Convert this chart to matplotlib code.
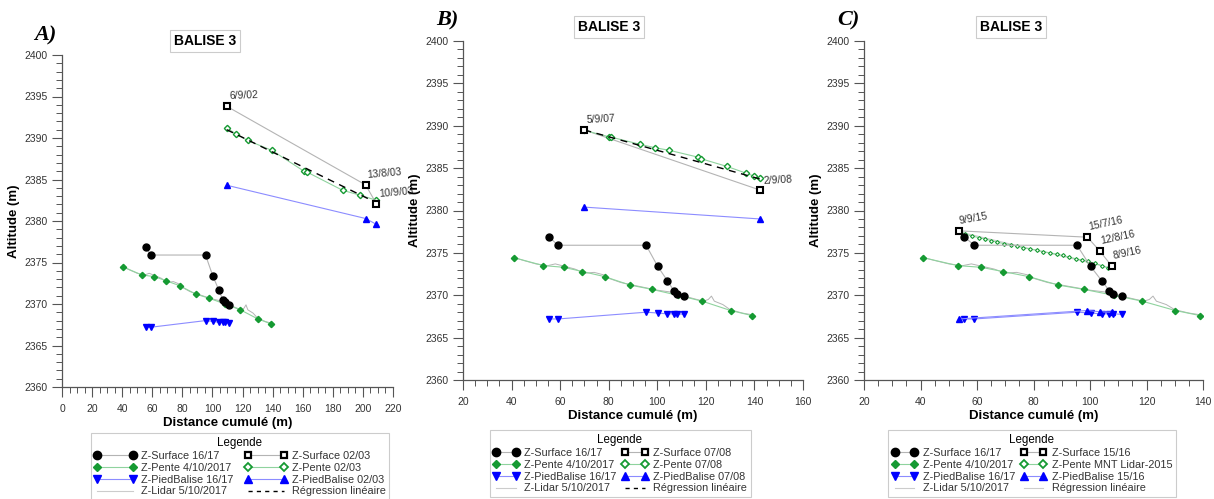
import matplotlib
matplotlib.use('Agg')
import matplotlib.pyplot as plt
from matplotlib.lines import Line2D
from matplotlib.ticker import MultipleLocator

plt.rcParams['font.family'] = ['Liberation Sans', 'DejaVu Sans']

# ---------------- shared series (2016/17 survey) ----------------
surf1617_x = [55.5, 59.0, 95.4, 100.2, 104.2, 106.9, 108.2, 111.2]
surf1617_y = [2376.9, 2375.9, 2375.9, 2373.4, 2371.7, 2370.5, 2370.2, 2369.9]
pente2017_x = [40.8, 53.1, 61.4, 69.2, 78.3, 88.8, 97.7, 108.4, 118.5, 130.2, 139.0]
pente2017_y = [2374.45, 2373.5, 2373.3, 2372.8, 2372.2, 2371.2, 2370.7, 2370.0, 2369.3, 2368.2, 2367.6]
pied1617_x = [55.5, 59.0, 95.4, 100.2, 104.2, 106.9, 108.2, 111.2]
pied1617_y = [2367.2, 2367.2, 2368.0, 2367.9, 2367.8, 2367.8, 2367.8, 2367.75]
lidar_x = [40.5, 45, 50, 55, 58, 62, 66, 70, 74, 78, 80, 85, 90, 95, 100, 105, 110,
           115, 119, 121, 122.3, 123.5, 127, 130, 135, 139]
lidar_y = [2374.5, 2374.1, 2373.7, 2373.5, 2373.7, 2373.4, 2373.1, 2372.6, 2372.7, 2372.4,
           2372.0, 2371.5, 2371.2, 2370.9, 2370.6, 2370.4, 2370.0, 2369.6, 2369.3, 2369.5,
           2369.9, 2369.3, 2368.9, 2368.3, 2367.9, 2367.7]

# ---------------- panel A (2002/03) ----------------
surfA_x = [109.7, 201.8, 208.9]
surfA_y = [2393.8, 2384.35, 2382.1]
surfA_lab = ["6/9/02", "13/8/03", "10/9/03"]
penteA_x = [109.4, 115.6, 123.4, 139.6, 160.8, 162.8, 186.5, 198.3, 208.9]
penteA_y = [2391.2, 2390.5, 2389.7, 2388.5, 2386.0, 2385.9, 2383.7, 2383.1, 2382.5]
piedA_x = [109.7, 201.8, 208.9]
piedA_y = [2384.3, 2380.3, 2379.6]
regA_x = [109.5, 209.0]
regA_y = [2391.0, 2382.2]

# ---------------- panel B (2007/08) ----------------
surfB_x = [70.0, 142.4]
surfB_y = [2389.5, 2382.4]
surfB_lab = ["5/9/07", "2/9/08"]
penteB_x = [70.0, 80.0, 81.1, 93.0, 99.2, 105.0, 116.7, 118.1, 128.7, 136.6, 139.9, 142.5]
penteB_y = [2389.45, 2388.7, 2388.65, 2387.8, 2387.4, 2387.1, 2386.3, 2386.1, 2385.2, 2384.4, 2384.05, 2383.8]
piedB_x = [70.0, 142.4]
piedB_y = [2380.4, 2379.0]
regB_x = [70.0, 142.5]
regB_y = [2389.5, 2383.7]

# ---------------- panel C (2015/16) ----------------
surfC_x = [53.6, 99.1, 103.5, 107.8]
surfC_y = [2377.6, 2376.85, 2375.2, 2373.4]
surfC_lab = ["9/9/15", "15/7/16", "12/8/16", "8/9/16"]
penteC_x = [53.6, 55.9, 58.2, 60.6, 62.7, 65.1, 67.2, 69.6, 71.9, 74.3, 76.4, 78.8, 81.1,
            83.5, 85.8, 88.2, 90.3, 92.7, 95.0, 97.2, 99.4, 101.8, 104.1, 106.4]
penteC_y = [2377.6, 2377.2, 2377.0, 2376.8, 2376.65, 2376.45, 2376.25, 2376.1, 2375.95, 2375.8,
            2375.6, 2375.45, 2375.3, 2375.15, 2375.0, 2374.85, 2374.7, 2374.5, 2374.3, 2374.15,
            2374.0, 2373.75, 2373.5, 2373.2]
piedC_x = [53.6, 99.1, 103.5, 107.8]
piedC_y = [2367.2, 2368.2, 2368.05, 2368.0]
regC_x = [53.6, 107.8]
regC_y = [2377.5, 2373.2]

GREEN = '#159a32'
LGREEN = '#8fd39e'
BLUE = '#0000ff'
LBLUE = '#8c8cff'
GREY = '#b4b4b4'
TXT = '#333333'

fig = plt.figure(figsize=(12.14, 4.99), dpi=100)


def px(x0, y0, x1, y1):
    W, H = 1214.0, 499.0
    return [x0 / W, 1 - y1 / H, (x1 - x0) / W, (y1 - y0) / H]


def base_panel(rect, xlim, letter, letter_xy, title_xy):
    ax = fig.add_axes(rect)
    ax.set_xlim(*xlim)
    ax.set_ylim(2360, 2400)
    for s in ['top', 'right']:
        ax.spines[s].set_visible(False)
    for s in ['left', 'bottom']:
        ax.spines[s].set_color('#555555')
        ax.spines[s].set_linewidth(0.9)
    ax.xaxis.set_major_locator(MultipleLocator(20))
    ax.xaxis.set_minor_locator(MultipleLocator(5))
    ax.yaxis.set_major_locator(MultipleLocator(5))
    ax.yaxis.set_minor_locator(MultipleLocator(1))
    ax.tick_params(which='major', direction='out', length=7, width=0.8, color='#555555',
                   labelsize=7.5, labelcolor=TXT, pad=3.5)
    ax.tick_params(axis='x', which='major', pad=5.5)
    ax.tick_params(which='minor', direction='out', length=4.5, width=0.7, color='#555555')
    ax.set_xlabel('Distance cumulé (m)', fontsize=9.5, fontweight='bold', labelpad=2)
    ax.set_ylabel('Altitude (m)', fontsize=9.5, fontweight='bold', labelpad=3)
    fig.text(letter_xy[0] / 1214, 1 - letter_xy[1] / 499, letter, fontsize=16,
             fontweight='bold', fontstyle='italic', family='Liberation Serif',
             ha='center', va='center')
    fig.text(title_xy[0] / 1214, 1 - title_xy[1] / 499, 'BALISE 3', fontsize=10,
             fontweight='bold', ha='center', va='center',
             bbox=dict(boxstyle='square,pad=0.3', fc='white', ec='#cccccc', lw=0.8))
    return ax


def common_series(ax):
    ax.plot(lidar_x, lidar_y, color=GREY, lw=0.7, zorder=2)
    ax.plot(pente2017_x, pente2017_y, color=LGREEN, lw=0.8, marker='D', ms=3.2,
            mfc=GREEN, mec=GREEN, zorder=3)
    ax.plot(surf1617_x, surf1617_y, color=GREY, lw=0.8, marker='o', ms=5,
            mfc='black', mec='black', zorder=4)
    ax.plot(pied1617_x, pied1617_y, color=LBLUE, lw=0.8, marker='v', ms=4,
            mfc=BLUE, mec=BLUE, zorder=4)


def proxies(surf_lab, pente_lab, pied_lab, reg_style):
    h = [
        Line2D([], [], color=GREY, lw=0.8, marker='o', ms=6, mfc='black', mec='black'),
        Line2D([], [], color=LGREEN, lw=0.8, marker='D', ms=4.3, mfc=GREEN, mec=GREEN),
        Line2D([], [], color=LBLUE, lw=0.8, marker='v', ms=5.8, mfc=BLUE, mec=BLUE),
        Line2D([], [], color='#cccccc', lw=0.8),
        Line2D([], [], color=GREY, lw=0.8, marker='s', ms=5, mfc='white', mec='black', mew=1.6),
        Line2D([], [], color=LGREEN, lw=0.8, marker='D', ms=4, mfc='white', mec=GREEN, mew=1.3),
        Line2D([], [], color=LBLUE, lw=0.8, marker='^', ms=5.8, mfc=BLUE, mec=BLUE),
        reg_style,
    ]
    l = ['Z-Surface 16/17', 'Z-Pente 4/10/2017', 'Z-PiedBalise 16/17', 'Z-Lidar 5/10/2017',
         surf_lab, pente_lab, pied_lab, 'Régression linéaire']
    return h, l


def add_legend(h, l, cx, top, hl, colsp):
    leg = fig.legend(h, l, loc='upper center', bbox_to_anchor=(cx / 1214, 1 - top / 499),
                     ncol=2, numpoints=2, title='Legende', fontsize=7.8, title_fontsize=8.3,
                     handlelength=hl, handletextpad=0.5, columnspacing=colsp,
                     labelspacing=0.18, borderpad=0.3, fancybox=False, framealpha=1,
                     edgecolor='#cccccc')
    leg.get_frame().set_linewidth(0.8)
    for t in leg.get_texts():
        t.set_color(TXT)


def annotate(ax, xs, ys, labs, offs, rots):
    for x, y, t, (dx, dy), r in zip(xs, ys, labs, offs, rots):
        ax.text(x + dx, y + dy, t, fontsize=7.5, color=TXT, rotation=r,
                ha='left', va='bottom', rotation_mode='anchor')


# ---------------- Panel A ----------------
axA = base_panel(px(62, 55, 393, 387), (0, 220), 'A)', (45, 35), (205, 41))
common_series(axA)
axA.plot(penteA_x, penteA_y, color=LGREEN, lw=0.8, marker='D', ms=3.2, mfc='white',
         mec=GREEN, mew=1.0, zorder=3)
axA.plot(regA_x, regA_y, color='black', lw=1.0, ls=(0, (5, 4)), zorder=4)
axA.plot(surfA_x, surfA_y, color=GREY, lw=0.8, marker='s', ms=4.8, mfc='white',
         mec='black', mew=1.5, zorder=5)
axA.plot(piedA_x, piedA_y, color=LBLUE, lw=0.8, marker='^', ms=4, mfc=BLUE, mec=BLUE, zorder=4)
annotate(axA, surfA_x, surfA_y, surfA_lab, [(1.5, 0.7), (1.5, 0.6), (1.8, 0.5)], [2, 5, 5])
hA, lA = proxies('Z-Surface 02/03', 'Z-Pente 02/03', 'Z-PiedBalise 02/03',
                 Line2D([], [], color='black', lw=1.0, ls=(0, (3, 3))))
add_legend(hA, lA, 240, 428, 3.9, 1.0)

# ---------------- Panel B ----------------
axB = base_panel(px(463, 41, 803, 380), (20, 160), 'B)', (447, 20), (609, 27))
common_series(axB)
axB.plot(surfB_x, surfB_y, color=GREY, lw=0.8, zorder=3)
axB.plot(penteB_x, penteB_y, color=LGREEN, lw=0.8, marker='D', ms=3.2, mfc='white',
         mec=GREEN, mew=1.0, zorder=3)
axB.plot(regB_x, regB_y, color='black', lw=1.0, ls=(0, (5, 4)), zorder=4)
axB.plot(surfB_x, surfB_y, ls='none', marker='s', ms=4.8, mfc='white',
         mec='black', mew=1.5, zorder=5)
axB.plot(piedB_x, piedB_y, color=LBLUE, lw=0.8, marker='^', ms=4, mfc=BLUE, mec=BLUE, zorder=4)
annotate(axB, surfB_x, surfB_y, surfB_lab, [(1.0, 0.6), (1.2, 0.5)], [3, 3])
hB, lB = proxies('Z-Surface 07/08', 'Z-Pente 07/08', 'Z-PiedBalise 07/08',
                 Line2D([], [], color='black', lw=1.0, ls=(0, (3, 3))))
add_legend(hB, lB, 620, 425, 2.4, 0.5)

# ---------------- Panel C ----------------
axC = base_panel(px(864, 41, 1203, 380), (20, 140), 'C)', (848, 20), (1011, 27))
common_series(axC)
axC.plot(regC_x, regC_y, color='#cccccc', lw=0.7, zorder=3)
axC.plot(penteC_x, penteC_y, color=LGREEN, lw=0.8, marker='D', ms=2.0, mfc='white',
         mec=GREEN, mew=0.8, zorder=3)
axC.plot([surfC_x[0], surf1617_x[0]], [surfC_y[0], surf1617_y[0]], color=GREY, lw=0.8, zorder=3)
axC.plot(surfC_x, surfC_y, color=GREY, lw=0.8, marker='s', ms=4.8, mfc='white',
         mec='black', mew=1.5, zorder=5)
axC.plot(piedC_x, piedC_y, color=LBLUE, lw=0.8, marker='^', ms=4, mfc=BLUE, mec=BLUE, zorder=4)
annotate(axC, surfC_x, surfC_y, surfC_lab,
         [(0.3, 0.6), (0.6, 0.6), (0.6, 0.6), (0.6, 0.6)], [10, 12, 12, 12])
hC, lC = proxies('Z-Surface 15/16', 'Z-Pente MNT Lidar-2015', 'Z-PiedBalise 15/16',
                 Line2D([], [], color='#cccccc', lw=0.8))
add_legend(hC, lC, 1032, 425, 2.4, 0.5)

fig.savefig('out.png', dpi=100)
